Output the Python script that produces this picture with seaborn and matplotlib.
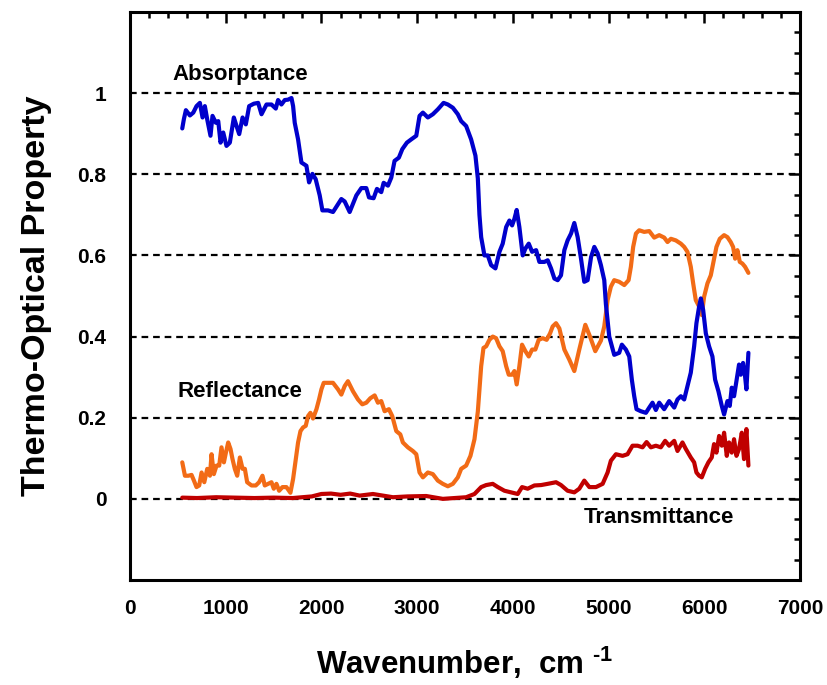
import numpy as np
import pandas as pd
import matplotlib
matplotlib.use("Agg")
import matplotlib.pyplot as plt
import seaborn as sns
from matplotlib.ticker import MultipleLocator

# ---------------- data ----------------
abs_x = [546, 563, 584, 626, 661, 695, 730, 758, 782, 807, 841, 862, 897, 922, 946, 974, 1008, 1043,
         1085, 1113, 1141, 1176, 1210, 1245, 1294, 1339, 1374, 1426, 1478, 1523, 1547, 1582, 1617,
         1652, 1687, 1704, 1721, 1756, 1791, 1843, 1871, 1906, 1940, 1982, 2010, 2069, 2121, 2208,
         2243, 2295, 2365, 2417, 2469, 2497, 2545, 2580, 2625, 2650, 2695, 2730, 2764, 2809, 2845,
         2893, 2938, 2991, 3025, 3060, 3112, 3164, 3216, 3276, 3321, 3373, 3425, 3460, 3512, 3564,
         3609, 3634, 3651, 3669, 3703, 3738, 3773, 3818, 3860, 3894, 3930, 3964, 3992, 4016, 4040,
         4068, 4103, 4131, 4166, 4201, 4243, 4277, 4329, 4364, 4399, 4434, 4468, 4503, 4538, 4572,
         4608, 4642, 4677, 4712, 4746, 4781, 4817, 4851, 4886, 4920, 4955, 4972, 5007, 5059, 5111,
         5139, 5181, 5216, 5243, 5268, 5292, 5337, 5390, 5425, 5459, 5494, 5529, 5581, 5633, 5686,
         5720, 5755, 5790, 5824, 5859, 5894, 5918, 5946, 5964, 5988, 6016, 6050, 6085, 6113, 6148,
         6183, 6207, 6242, 6266, 6287, 6311, 6336, 6363, 6381, 6405, 6426, 6440, 6461]
abs_y = [.913, .936, .958, .945, .952, .968, .976, .940, .968, .935, .895, .944, .927, .931, .878, .903,
         .870, .878, .940, .919, .899, .940, .923, .968, .974, .976, .948, .972, .972, .962, .983, .972,
         .983, .984, .988, .968, .927, .886, .829, .821, .780, .801, .788, .748, .711, .711, .707, .739,
         .733, .707, .748, .766, .766, .743, .741, .764, .756, .779, .772, .792, .833, .841, .862, .878,
         .886, .895, .944, .952, .940, .948, .960, .976, .972, .964, .948, .931, .919, .886, .846, .790,
         .700, .645, .600, .600, .576, .568, .609, .629, .670, .686, .674, .690, .712, .670, .600, .617,
         .629, .609, .613, .584, .584, .588, .568, .543, .539, .551, .613, .637, .654, .680, .645, .592,
         .535, .539, .596, .621, .605, .576, .539, .480, .400, .355, .360, .380, .368, .351, .294, .253,
         .221, .216, .212, .225, .237, .219, .237, .221, .241, .225, .245, .253, .245, .278, .311, .376,
         .433, .474, .494, .466, .408, .376, .351, .294, .265, .229, .208, .241, .229, .274, .253, .290,
         .331, .306, .335, .302, .270, .360]

ref_x = [546, 574, 609, 643, 668, 695, 723, 748, 776, 807, 835, 852, 876, 904, 932, 956, 981, 1002,
         1026, 1050, 1071, 1095, 1120, 1148, 1176, 1200, 1224, 1270, 1314, 1349, 1384, 1408, 1443,
         1478, 1502, 1530, 1558, 1593, 1634, 1676, 1704, 1732, 1756, 1781, 1808, 1836, 1860, 1885,
         1912, 1948, 1975, 2000, 2024, 2069, 2121, 2173, 2208, 2243, 2277, 2330, 2382, 2427, 2469,
         2511, 2556, 2590, 2625, 2660, 2705, 2740, 2782, 2824, 2851, 2903, 2955, 2991, 3025, 3060,
         3112, 3164, 3216, 3268, 3321, 3373, 3425, 3460, 3512, 3557, 3599, 3634, 3669, 3693, 3721,
         3755, 3790, 3825, 3860, 3894, 3930, 3957, 3992, 4016, 4040, 4068, 4096, 4131, 4166, 4201,
         4235, 4270, 4312, 4353, 4389, 4416, 4451, 4486, 4538, 4590, 4642, 4694, 4757, 4806, 4861,
         4920, 4955, 4990, 5024, 5059, 5111, 5164, 5209, 5233, 5257, 5286, 5320, 5372, 5425, 5477,
         5529, 5581, 5616, 5651, 5703, 5755, 5790, 5824, 5859, 5884, 5911, 5946, 5974, 5998, 6033,
         6068, 6092, 6127, 6162, 6207, 6242, 6276, 6301, 6322, 6346, 6371, 6398, 6426, 6461]
ref_y = [.090, .057, .057, .059, .045, .029, .033, .065, .041, .074, .057, .110, .061, .082, .082, .127,
         .090, .114, .139, .123, .098, .074, .057, .102, .074, .074, .041, .033, .033, .041, .057, .033,
         .037, .041, .025, .037, .020, .029, .029, .015, .049, .098, .139, .167, .176, .180, .204, .212,
         .198, .221, .245, .270, .286, .286, .286, .270, .257, .278, .290, .265, .245, .233, .237, .248,
         .255, .237, .241, .216, .221, .204, .167, .159, .139, .127, .118, .110, .065, .053, .065, .061,
         .045, .037, .031, .037, .053, .074, .082, .106, .147, .215, .327, .372, .376, .392, .400, .396,
         .376, .364, .327, .306, .306, .315, .282, .327, .380, .364, .351, .368, .368, .392, .396, .392,
         .408, .425, .433, .420, .368, .343, .315, .368, .429, .400, .364, .390, .425, .490, .523, .539,
         .535, .527, .539, .572, .621, .654, .662, .658, .660, .644, .650, .644, .633, .641, .637, .629,
         .621, .609, .572, .531, .490, .474, .453, .498, .531, .551, .580, .621, .641, .650, .645, .633,
         .621, .592, .613, .584, .580, .572, .557]

tra_x = [546, 700, 900, 1100, 1300, 1500, 1700, 1900, 2000, 2100, 2200, 2300, 2400, 2538, 2747, 2900,
         3095, 3268, 3512, 3599, 3669, 3721, 3790, 3843, 3912, 3981, 4051, 4096, 4155, 4225, 4295,
         4364, 4451, 4503, 4572, 4642, 4694, 4746, 4799, 4868, 4938, 4990, 5024, 5077, 5146, 5198,
         5250, 5303, 5355, 5397, 5442, 5494, 5546, 5591, 5633, 5686, 5720, 5772, 5807, 5859, 5894,
         5918, 5946, 5974, 6009, 6043, 6078, 6102, 6127, 6155, 6183, 6207, 6235, 6259, 6287, 6311,
         6336, 6363, 6392, 6415, 6440, 6461]
tra_y = [.003, .002, .004, .003, .002, .003, .002, .006, .012, .013, .010, .013, .008, .012, .004, .006,
         .007, .000, .004, .012, .029, .034, .037, .029, .020, .016, .012, .029, .025, .033, .034, .037,
         .041, .034, .020, .016, .025, .045, .029, .029, .037, .065, .094, .110, .106, .110, .131, .131,
         .127, .140, .127, .131, .127, .143, .131, .143, .118, .139, .123, .102, .090, .065, .057, .053,
         .074, .090, .102, .135, .114, .155, .131, .163, .106, .139, .114, .147, .106, .123, .163, .098,
         .172, .082]

series_labels = ["Absorptance", "Reflectance", "Transmittance"]
label_pos_x = [1150, 1150, 5530]
label_pos_y = [1.047, 0.265, -0.047]
x_ticks = [0, 1000, 2000, 3000, 4000, 5000, 6000, 7000]
y_ticks = [0, 0.2, 0.4, 0.6, 0.8, 1.0]
y_ticklabels = ["0", "0.2", "0.4", "0.6", "0.8", "1"]

# ---------------- styling ----------------
sns.set_style("white")
plt.rcParams["font.family"] = ["Liberation Sans", "DejaVu Sans"]
plt.rcParams["font.weight"] = "bold"
plt.rcParams["text.color"] = "black"
plt.rcParams["axes.labelcolor"] = "black"
plt.rcParams["xtick.color"] = "black"
plt.rcParams["ytick.color"] = "black"
plt.rcParams["mathtext.fontset"] = "custom"
plt.rcParams["mathtext.rm"] = "Liberation Sans:bold"
plt.rcParams["mathtext.bf"] = "Liberation Sans:bold"

fig = plt.figure(figsize=(8.28, 6.85), dpi=100)
ax = fig.add_axes([130 / 828, 1 - 580 / 685, 670 / 828, 568 / 685])

colors = {"Absorptance": "#0000CC", "Reflectance": "#F26B16", "Transmittance": "#C00000"}
frames = {
    "Transmittance": pd.DataFrame({"x": tra_x, "y": tra_y}),
    "Reflectance": pd.DataFrame({"x": ref_x, "y": ref_y}),
    "Absorptance": pd.DataFrame({"x": abs_x, "y": abs_y}),
}
for name, df in frames.items():
    sns.lineplot(data=df, x="x", y="y", ax=ax, color=colors[name], lw=3.0,
                 estimator=None, zorder=3)

ax.set_xlim(0, 7000)
ax.set_ylim(-0.2, 1.2)
ax.set_xticks(x_ticks)
ax.set_yticks(y_ticks)
ax.set_yticklabels(y_ticklabels)
ax.xaxis.set_minor_locator(MultipleLocator(200))
ax.yaxis.set_minor_locator(MultipleLocator(0.05))
ax.tick_params(which="both", direction="in", top=True, right=True, color="black",
               labelcolor="black", labelsize=15, width=1.8)
ax.tick_params(which="major", length=8)
ax.tick_params(which="minor", length=4.5)
ax.tick_params(axis="x", which="major", pad=14)
ax.tick_params(axis="y", which="major", pad=17)
for lab in ax.get_xticklabels() + ax.get_yticklabels():
    lab.set_fontweight("bold")

ax.grid(False)
ax.yaxis.grid(True, which="major", color="black", linestyle=(0, (3, 2.2)), lw=1.6, zorder=1)

for s in ax.spines.values():
    s.set_linewidth(2.2)
    s.set_color("black")

ax.set_xlabel(r"Wavenumber,  cm $^{\text{-1}}$", fontsize=22.5, fontweight="bold", labelpad=19)
ax.set_ylabel("Thermo-Optical Property", fontsize=24.5, fontweight="bold", labelpad=18)

for t, xx, yy in zip(series_labels, label_pos_x, label_pos_y):
    ax.text(xx, yy, t, fontsize=16, fontweight="bold", ha="center", va="center", zorder=4)

fig.savefig("out.png", dpi=100)
